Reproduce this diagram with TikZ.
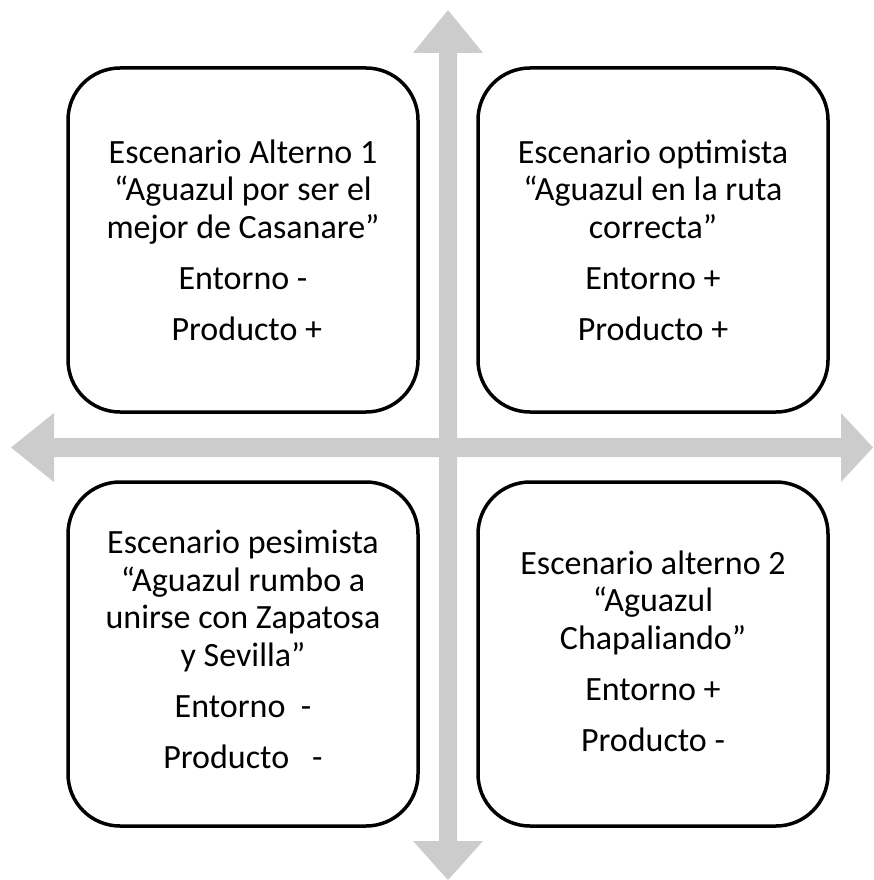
\documentclass[tikz,border=0pt]{standalone}
\usepackage{fontspec}
\setmainfont{Carlito}
\definecolor{arrowgray}{RGB}{204,204,204}
\newcommand{\quadtext}[1]{\begin{tabular}[b]{@{}c@{}}#1\end{tabular}}
\begin{document}
\begin{tikzpicture}[x=1pt,y=-1pt,
  quad/.style={draw=black, line width=3.5pt, rounded corners=52pt,
    minimum width=350pt, minimum height=344pt, inner sep=0pt,
    text depth=0pt, font=\fontsize{34}{37.5}\selectfont},
  axis/.style={fill=arrowgray, draw=none}]
\useasboundingbox (0,0) rectangle (873,880);
% vertical double arrow
\fill[axis] (448,10) -- (483,53) -- (457,53) -- (457,841) -- (483,841)
  -- (448,880) -- (413,841) -- (439,841) -- (439,53) -- (413,53) -- cycle;
% horizontal double arrow
\fill[axis] (11,447.5) -- (54,413) -- (54,438) -- (841,438) -- (841,413)
  -- (873,447.5) -- (841,482) -- (841,457) -- (54,457) -- (54,482) -- cycle;
\node[quad, text height=200pt] (tl) at (243,240) {\quadtext{Escenario Alterno 1\\“Aguazul por ser el\\mejor de Casanare”\\[13.5pt]Entorno -\\[13.5pt]\ Producto +}};
\node[quad, text height=200pt] (tr) at (653,240) {\quadtext{Escenario optimista\\“Aguazul en la ruta\\correcta”\\[13.5pt]Entorno +\\[13.5pt]Producto +}};
\node[quad, text height=228pt] (bl) at (243,654) {\quadtext{Escenario pesimista\\“Aguazul rumbo a\\unirse con Zapatosa\\y Sevilla”\\[13.5pt]Entorno\ \ -\\[13.5pt]Producto\ \ \ -}};
\node[quad, text height=194pt] (br) at (653,654) {\quadtext{Escenario alterno 2\\“Aguazul\\Chapaliando”\\[13.5pt]Entorno +\\[13.5pt]Producto -}};
\end{tikzpicture}
\end{document}
